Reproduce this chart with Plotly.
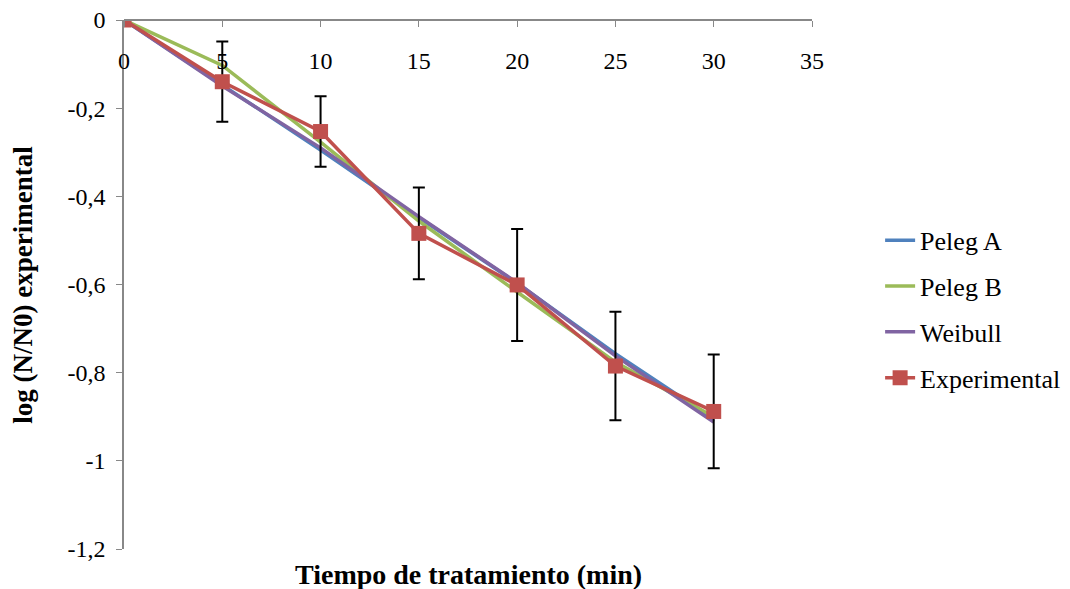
import plotly.graph_objects as go

t = [0, 5, 10, 15, 20, 25, 30]
peleg_a = [0, -0.148, -0.295, -0.448, -0.597, -0.757, -0.905]
peleg_b = [0, -0.103, -0.277, -0.456, -0.617, -0.776, -0.900]
weibull = [0, -0.150, -0.290, -0.446, -0.596, -0.762, -0.912]
experimental = [0, -0.140, -0.253, -0.484, -0.601, -0.785, -0.888]
exp_err = [0, 0.091, 0.080, 0.104, 0.127, 0.123, 0.129]

x_ticks = [0, 5, 10, 15, 20, 25, 30, 35]
x_ticklabels = ["0", "5", "10", "15", "20", "25", "30", "35"]
y_ticks = [0, -0.2, -0.4, -0.6, -0.8, -1.0, -1.2]
y_ticklabels = ["0", "-0,2", "-0,4", "-0,6", "-0,8", "-1", "-1,2"]

font_family = "Liberation Serif, Times New Roman, serif"

fig = go.Figure()
series = [
    ("Peleg A", peleg_a, "#4F81BD"),
    ("Peleg B", peleg_b, "#9BBB59"),
    ("Weibull", weibull, "#8064A2"),
]
for name, ys, col in series:
    fig.add_trace(go.Scatter(x=t, y=ys, name=name, mode="lines",
                             line=dict(color=col, width=3.5), legendgroup=name))

fig.add_trace(go.Scatter(
    x=t, y=experimental, name="Experimental", mode="lines+markers",
    line=dict(color="#C0504D", width=3.5),
    marker=dict(symbol="square", size=15, color="#C0504D"),
    error_y=dict(type="data", array=exp_err, visible=True, color="black",
                 thickness=2, width=6),
    legendgroup="Experimental"))

axis_color = "#888888"
fig.update_layout(
    width=1070, height=589,
    margin=dict(l=124, r=258, t=20, b=40, autoexpand=False),
    paper_bgcolor="white", plot_bgcolor="white",
    font=dict(family=font_family, size=24, color="black"),
    showlegend=True,
    legend=dict(x=1.099, y=0.453, xanchor="left", yanchor="middle",
                font=dict(family=font_family, size=26, color="black"),
                traceorder="grouped", tracegroupgap=9, bgcolor="rgba(0,0,0,0)"),
    xaxis=dict(range=[0, 35], tickmode="array", tickvals=x_ticks, ticktext=x_ticklabels,
               anchor="free", position=1, side="bottom",
               ticks="outside", ticklen=6, ticklabelstandoff=13,
               tickcolor=axis_color, showline=True, linecolor=axis_color,
               linewidth=1.5, showgrid=False, zeroline=False,
               tickfont=dict(family=font_family, size=24, color="black")),
    yaxis=dict(range=[-1.2, 0], tickmode="array", tickvals=y_ticks, ticktext=y_ticklabels,
               ticks="outside", ticklen=6, ticklabelstandoff=6,
               tickcolor=axis_color, showline=True, linecolor=axis_color,
               linewidth=1.5, showgrid=False, zeroline=False,
               tickfont=dict(family=font_family, size=24, color="black")),
)

fig.add_annotation(text="<b>log (N/N0) experimental</b>", xref="paper", yref="paper",
                   x=-0.148, y=0.5, xanchor="center", yanchor="middle", showarrow=False,
                   textangle=-90,
                   font=dict(family=font_family, size=27, color="black"))
fig.add_annotation(text="<b>Tiempo de tratamiento (min)</b>", xref="paper", yref="paper",
                   x=0.5, y=-0.048, xanchor="center", yanchor="middle", showarrow=False,
                   font=dict(family=font_family, size=28, color="black"))

fig.write_html("out.html")
